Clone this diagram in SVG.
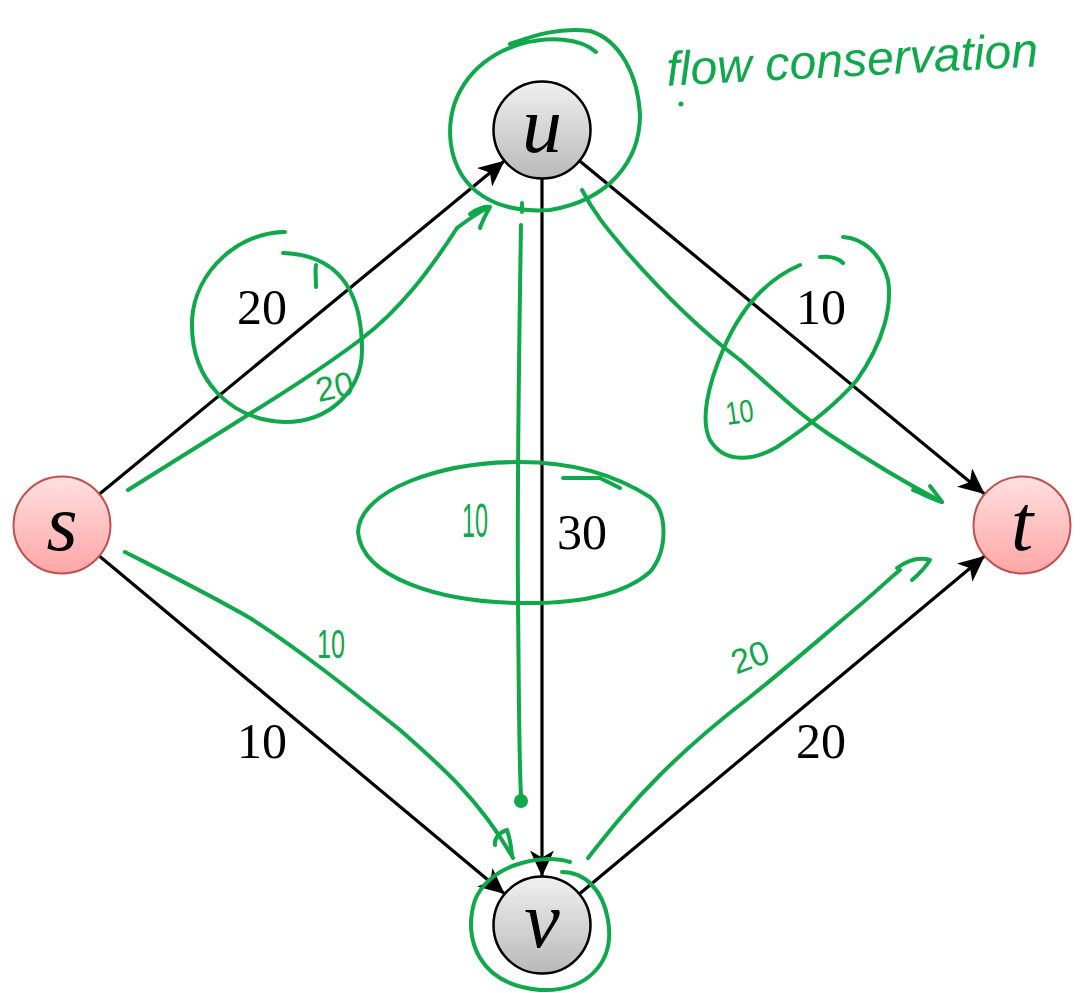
<svg xmlns="http://www.w3.org/2000/svg" width="1080" height="993" viewBox="0 0 1080 993">
<defs>
<linearGradient id="gPink" x1="0" y1="0" x2="0" y2="1"><stop offset="0" stop-color="#ffe0e0"/><stop offset="1" stop-color="#ffa6a6"/></linearGradient>
<linearGradient id="gGray" x1="0" y1="0" x2="0" y2="1"><stop offset="0" stop-color="#f0f0f0"/><stop offset="1" stop-color="#b9b9b9"/></linearGradient>
<marker id="arr" markerUnits="userSpaceOnUse" markerWidth="28" markerHeight="24" refX="26" refY="12" orient="auto" viewBox="0 0 28 24">
<path d="M0,0 L26,12 L0,24 L7,12 z" fill="#000"/>
</marker>
<style>
.edge{stroke:#000;stroke-width:3.2;fill:none;marker-end:url(#arr)}
.lbl{font-family:"Liberation Serif","DejaVu Serif",serif;font-size:50px;fill:#000;text-anchor:middle}
.nlbl{font-family:"Liberation Serif","DejaVu Serif",serif;font-style:italic;font-size:80px;fill:#000;text-anchor:middle}
.pink{fill:url(#gPink);stroke:#c0504d;stroke-width:2}
.gray{fill:url(#gGray);stroke:#000;stroke-width:2.5}
.ink{fill:none;stroke:#0fa84a;stroke-width:4;stroke-linecap:round;stroke-linejoin:round}
.hw{font-family:"Liberation Sans","DejaVu Sans",sans-serif;fill:#0fa84a;text-anchor:middle}
</style>
</defs>
<g id="connectors">
<line class="edge" x1="99.5" y1="494" x2="504.6" y2="160.8"/>
<line class="edge" x1="99.3" y1="556" x2="504.8" y2="893.9"/>
<line class="edge" x1="542" y1="178.5" x2="542" y2="876.5"/>
<line class="edge" x1="579.4" y1="160.8" x2="984.6" y2="494"/>
<line class="edge" x1="579.3" y1="894" x2="984.7" y2="556"/>
</g>
<g id="edge-labels">
<text class="lbl" x="262" y="324">20</text>
<text class="lbl" x="821" y="324">10</text>
<text class="lbl" x="582" y="549">30</text>
<text class="lbl" x="262" y="758">10</text>
<text class="lbl" x="821" y="758">20</text>
</g>
<g id="node-s"><circle class="pink" cx="62" cy="525" r="48.5"/><text class="nlbl" x="62" y="550">s</text></g>
<g id="node-t"><circle class="pink" cx="1022" cy="525" r="48.5"/><text class="nlbl" x="1022" y="550">t</text></g>
<g id="node-u"><circle class="gray" cx="542" cy="130" r="48.5"/><text class="nlbl" x="542" y="152">u</text></g>
<g id="node-v"><circle class="gray" cx="542" cy="925" r="48.5"/><text class="nlbl" x="542" y="947">v</text></g>
<g id="annotations">
<path class="ink" d="M510,44 C535,35 560,27 590,31 C620,40 638,75 640,115 C640,160 610,200 550,210 C495,214 458,190 451,145 C445,100 470,60 520,44 C550,36 580,38 596,52"/>
<path class="ink" d="M128,490 C160,470 200,445 240,420 C280,395 320,370 360,340 C400,310 430,270 457,228"/>
<path class="ink" d="M457,228 C465,222 478,212 490,207 C486,214 482,222 480,228 M470,214 C478,208 486,206 490,207"/>
<path class="ink" d="M285,232 C240,232 195,270 192,320 C190,380 230,420 285,422 C330,422 362,390 362,350 C362,300 345,255 283,253"/>
<path class="ink" d="M316,287 C316,278 315,272 316,265"/>
<text class="hw" font-size="34" transform="translate(337,398) rotate(-12)">20</text>
<path class="ink" d="M125,552 C170,575 210,595 250,618 C300,650 350,690 400,730 C440,765 480,800 513,858"/>
<path class="ink" d="M495,845 C494,838 500,832 507,830 C510,838 511,846 512,855"/>
<text class="hw" font-size="40" textLength="28" lengthAdjust="spacingAndGlyphs" x="331" y="658">10</text>
<path class="ink" d="M522,203 L522,212 M521,225 C519,350 517,480 518,600 C519,700 519,760 521,795"/>
<circle cx="521" cy="801" r="7" fill="#0fa84a"/>
<path class="ink" d="M358,532 C360,490 440,462 520,462 C580,462 620,478 650,497 C668,512 668,550 650,572 C620,598 570,604 520,603 C440,602 362,578 358,532"/>
<path class="ink" d="M563,478 L600,478 L620,488"/>
<text class="hw" font-size="48" textLength="26" lengthAdjust="spacingAndGlyphs" x="475" y="537">10</text>
<path class="ink" d="M582,190 C595,215 610,232 625,250 C660,290 700,330 740,360 C780,395 800,415 830,435 C860,455 900,480 942,502"/>
<path class="ink" d="M913,490 C925,495 935,500 942,502 C938,496 933,490 930,486"/>
<path class="ink" d="M843,237 C860,238 880,250 888,280 C892,305 885,340 857,380 C840,400 810,425 777,447 C755,460 725,465 710,440 C700,420 708,385 723,350 C740,310 765,280 800,265"/>
<path class="ink" d="M820,257 C830,256 838,258 843,263"/>
<text class="hw" font-size="32" textLength="28" lengthAdjust="spacingAndGlyphs" transform="translate(741,423) rotate(-8)">10</text>
<path class="ink" d="M588,858 C610,830 630,805 660,775 C690,745 720,720 750,697 C790,665 830,630 860,605 C880,588 890,578 900,570"/>
<path class="ink" d="M897,568 C908,560 920,557 930,560 C925,568 918,575 912,580"/>
<text class="hw" font-size="34" transform="translate(754,668) rotate(-20)">20</text>
<path class="ink" d="M570,862 C540,853 490,865 475,900 C462,940 480,985 540,990 C590,992 615,960 608,920 C603,890 585,872 562,872"/>
<text class="hw" font-size="48" textLength="372" lengthAdjust="spacingAndGlyphs" transform="translate(853,76) rotate(-3)" font-style="italic">flow conservation</text>
<circle cx="681" cy="104" r="2.5" fill="#0fa84a"/>
</g>
</svg>
